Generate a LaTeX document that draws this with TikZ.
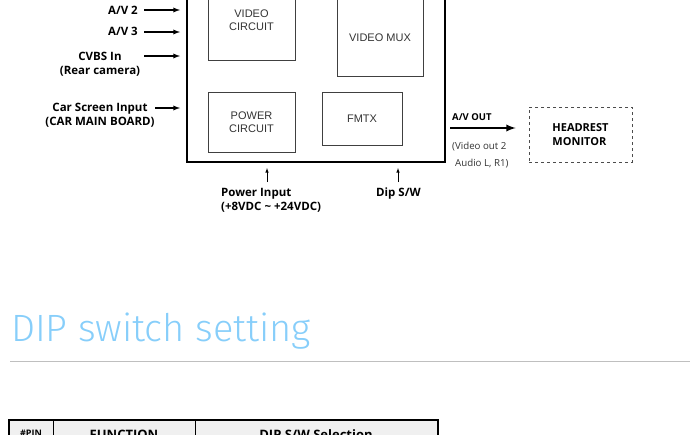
\documentclass[tikz,border=0pt]{standalone}
\usepackage{fontspec}
\setmainfont{Open Sans}
\newfontfamily\boxfont{Liberation Sans}
\newfontfamily\titlefont{Fira Sans Light}
\usetikzlibrary{arrows}
\usetikzlibrary{shapes}
\definecolor{titleblue}{RGB}{135,206,250}

\begin{document}
\begin{tikzpicture}[x=1pt,y=-1pt]
   \tikzset{Label/.style={font=\fontsize{11.5}{14}\selectfont\bfseries, inner sep=0pt}}
   \tikzset{Small/.style={font=\fontsize{9.7}{11}\selectfont, text=black!80, inner sep=0pt}}
   \tikzset{Block/.style={draw=black!75, line width=0.6pt, font=\boxfont\fontsize{11}{13}\selectfont, text=black!80, align=center, inner sep=0pt}}
   \tikzset{InArrow/.style={-latex, line width=1.3pt, shorten >=6pt}}
   \tikzset{UpArrow/.style={-latex, line width=0.6pt}}
   \useasboundingbox (0,0) rectangle (700,434);
   \clip (0,0) rectangle (700,434);
   % main board
   \node[draw, line width=2pt, minimum width=258pt, minimum height=200pt, inner sep=0pt] (main) at (316,62) {};
   \node[Block, minimum width=87pt, minimum height=80pt] (video) at (251.5,20) {VIDEO\\CIRCUIT};
   \node[Block, minimum width=86pt, minimum height=77pt] (mux) at (380,38) {VIDEO MUX};
   \node[Block, minimum width=87pt, minimum height=60pt] (power) at (251.5,122) {POWER\\CIRCUIT};
   \node[Block, minimum width=80pt, minimum height=53pt] (fmtx) at (362,118.5) {FMTX};
   % inputs
   \node[Label, anchor=east] (av2) at (138,10) {A/V 2};
   \node[Label, anchor=east] (av3) at (138,31) {A/V 3};
   \node[Label, align=center] (cvbs) at (100,64) {CVBS In\\(Rear camera)};
   \node[Label, align=center] (carscreen) at (100,115) {Car Screen Input\\(CAR MAIN BOARD)};
   \coordinate (in1) at (144,10);
   \coordinate (in2) at (144,32);
   \coordinate (in3) at (144,56);
   \coordinate (in4) at (155,108);
   \draw[InArrow] (in1) -- (in1 -| main.west);
   \draw[InArrow] (in2) -- (in2 -| main.west);
   \draw[InArrow] (in3) -- (in3 -| main.west);
   \draw[InArrow] (in4) -- (in4 -| main.west);
   % power and dip switch
   \node[Label, align=left, anchor=north west] (pwr) at (221,188) {Power Input\\(+8VDC \textasciitilde\ +24VDC)};
   \node[Label, anchor=north west] (dip) at (376,188) {Dip S/W};
   \coordinate (pwrA) at (267,182);
   \coordinate (dipA) at (398,182);
   \draw[UpArrow, shorten >=5pt] (pwrA) -- (pwrA |- main.south);
   \draw[UpArrow, shorten >=5pt] (dipA) -- (dipA |- main.south);
   % output
   \node[draw=black!70, dashed, line width=0.7pt, minimum width=103pt, minimum height=55pt, inner sep=0pt] (headrest) at (580.5,134.5) {};
   \node[Label, align=left, font=\fontsize{11}{14}\selectfont\bfseries] at (headrest.center) {HEADREST\\MONITOR};
   \coordinate (out) at (450,128);
   \draw[-latex, line width=2.2pt, shorten >=13pt] (out) -- (out -| headrest.west);
   \node[Label, anchor=west, font=\fontsize{9.5}{11}\selectfont\bfseries] (avout) at (452,117) {A/V OUT};
   \node[Small, anchor=west] (vout) at (452,147) {(Video out 2};
   \node[Small, anchor=west] (aout) at (455,164) {Audio L, R1)};
   % section title
   \node[anchor=west, inner sep=0pt, text=titleblue, font=\titlefont\fontsize{38}{40}\selectfont] (title) at (11,331) {DIP switch setting};
   \draw[black!25, line width=1pt] (10,361) -- (690,361);
   % table head
   \draw[fill=black!6, line width=1.2pt] (9,420) rectangle (438,450);
   \draw[line width=0.8pt] (53,420) -- (53,450);
   \draw[line width=0.8pt] (195,420) -- (195,450);
   \node[Label, font=\fontsize{9}{11}\selectfont\bfseries] (pin) at (31,433) {\#PIN};
   \node[Label, font=\fontsize{13}{15}\selectfont\bfseries] (func) at (124,435) {FUNCTION};
   \node[Label, font=\fontsize{13}{15}\selectfont\bfseries] (sel) at (316,435) {DIP S/W Selection};
\end{tikzpicture}
\end{document}
